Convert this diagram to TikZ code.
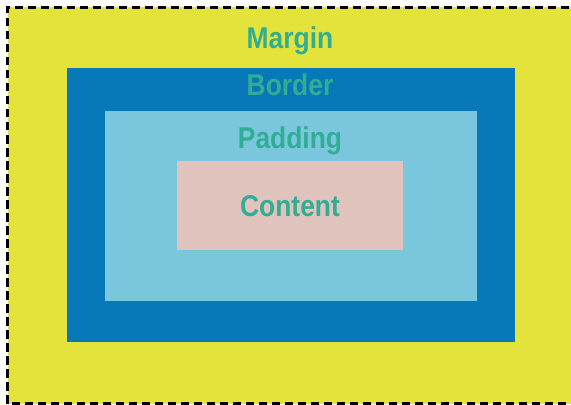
\documentclass[tikz,border=0pt]{standalone}
\usepackage{fontspec}
\setmainfont{Liberation Sans}
\usetikzlibrary{positioning}

\definecolor{marginyellow}{HTML}{E3E33B}
\definecolor{borderblue}{HTML}{0779B9}
\definecolor{paddingblue}{HTML}{7AC6DD}
\definecolor{contentpink}{HTML}{DFC3BC}
\definecolor{labelteal}{HTML}{2FAE94}

\newcommand{\boxlbl}[1]{\scalebox{0.88}[1]{#1}}

\begin{document}
\begin{tikzpicture}[
  x=1bp, y=1bp,
  layerbox/.style = {inner sep=0pt, outer sep=0pt, draw=none},
  boxlabel/.style = {anchor=base, inner sep=0pt, text=labelteal,
                     font=\fontsize{30bp}{30bp}\selectfont\bfseries},
]
\useasboundingbox (0,0) rectangle (571,404);
\clip (0,0) rectangle (571,404);

%% -- Margin (outer, dashed edge) ---------------------------------------------
\fill[marginyellow] (7.5,0.5) rectangle (580,396.5);
\draw[line width=2.6bp, dash pattern=on 8.5bp off 4.5bp] (7.5,0.5) rectangle (580,396.5);

%% -- Nested boxes --------------------------------------------------------------
\node[layerbox, fill=borderblue, minimum width=448bp, minimum height=274bp]
  (border) at (291,199) {};
\node[layerbox, fill=paddingblue, minimum width=372bp, minimum height=190bp]
  (padding) at (291,198) {};
\node[layerbox, fill=contentpink, minimum width=226bp, minimum height=89bp]
  (content) at (290,198.5) {};

%% -- Labels --------------------------------------------------------------------
\node[boxlabel] (marginlbl) at (290,356) {\boxlbl{Margin}};
\node[boxlabel] (borderlbl) at (290,309) {\boxlbl{Border}};
\node[boxlabel] (paddinglbl) at (290,256) {\boxlbl{Padding}};
\node[boxlabel] (contentlbl) at (290,188) {\boxlbl{Content}};

\end{tikzpicture}
\end{document}
